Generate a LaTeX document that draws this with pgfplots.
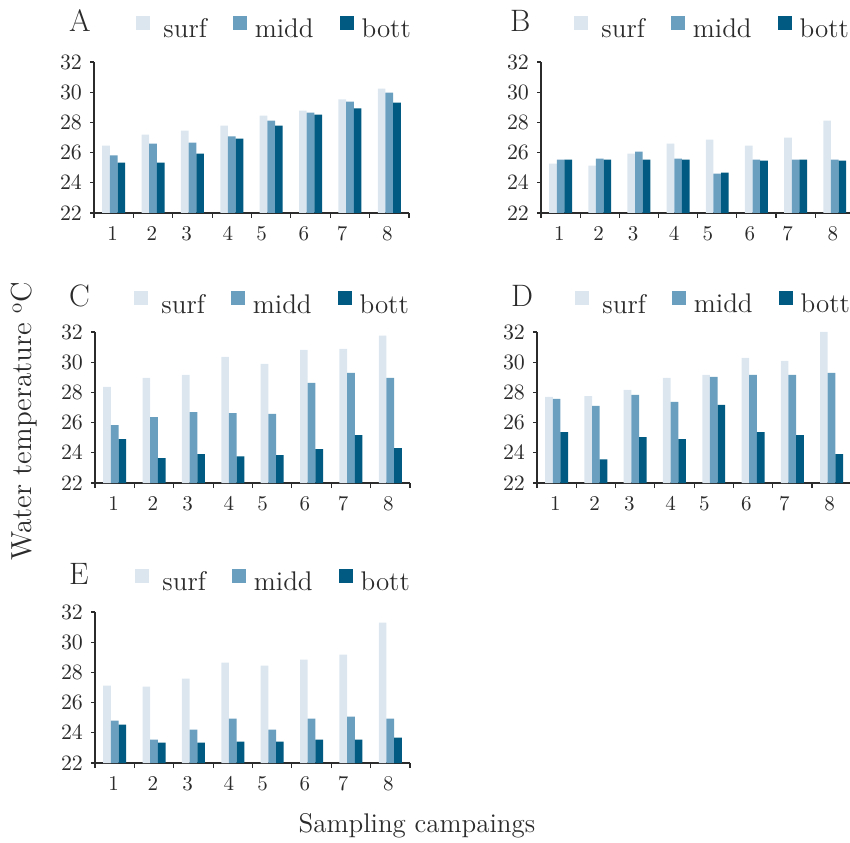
\documentclass[border=0pt]{standalone}
\usepackage{pgfplots}
\usepackage{pgfplotstable}
\pgfplotsset{compat=1.18}

\definecolor{surfc}{HTML}{DCE6EF}
\definecolor{middc}{HTML}{6A9FC0}
\definecolor{bottc}{HTML}{005A82}
\definecolor{inkc}{HTML}{2B2B2B}

% water temperature per sampling campaign, panels A-E
\pgfplotstableread{
x surf midd bott
1 26.46 25.82 25.33
2 27.19 26.59 25.33
3 27.45 26.66 25.93
4 27.78 27.08 26.92
5 28.45 28.11 27.78
6 28.78 28.64 28.51
7 29.53 29.37 28.93
8 30.23 29.97 29.31
}\tabA
\pgfplotstableread{
x surf midd bott
1 25.27 25.53 25.53
2 25.13 25.60 25.53
3 25.93 26.06 25.53
4 26.59 25.60 25.53
5 26.86 24.60 24.67
6 26.46 25.53 25.47
7 26.99 25.53 25.53
8 28.11 25.53 25.47
}\tabB
\pgfplotstableread{
x surf midd bott
1 28.36 25.84 24.90
2 28.96 26.37 23.64
3 29.16 26.70 23.91
4 30.36 26.63 23.77
5 29.89 26.57 23.84
6 30.82 28.63 24.24
7 30.89 29.29 25.17
8 31.76 28.96 24.31
}\tabC
\pgfplotstableread{
x surf midd bott
1 27.70 27.57 25.37
2 27.76 27.10 23.57
3 28.16 27.83 25.04
4 28.96 27.37 24.90
5 29.16 29.03 27.17
6 30.29 29.16 25.37
7 30.09 29.16 25.17
8 32.00 29.29 23.91
}\tabD
\pgfplotstableread{
x surf midd bott
1 27.12 24.80 24.54
2 27.06 23.55 23.35
3 27.59 24.21 23.35
4 28.64 24.94 23.41
5 28.45 24.21 23.41
6 28.84 24.94 23.55
7 29.17 25.07 23.55
8 31.29 24.94 23.68
}\tabE

\tikzset{letter/.style={anchor=base west, font=\fontsize{15.5}{18}\selectfont, text=inkc}}

\pgfplotsset{
  panel/.style={
    scale only axis, width=157.5pt, height=75.5pt,
    anchor=south west, clip mode=individual,
    ybar=0pt, bar width=0.195,
    ymin=22, ymax=32, ytick={22,24,...,32},
    xmin=0.5, xmax=8.5,
    axis x line*=bottom, axis y line*=left,
    xtick={0.97,1.97,2.85,3.9,4.76,5.83,6.8,7.95},
    xticklabels={1,2,3,4,5,6,7,8},
    minor xtick={0.5,1.5,...,8.5},
    tick align=outside, major tick length=2pt, minor tick length=2.5pt,
    axis line style={line width=0.6pt, inkc},
    tick style={line width=0.6pt, inkc},
    major x tick style={draw=none},
    tick label style={font=\fontsize{10.5}{12}\selectfont, inkc},
    xticklabel shift=1pt, yticklabel shift=0.5pt,
    legend columns=3,
    legend style={draw=none, fill=none, inner sep=0pt, anchor=west,
      nodes={inner sep=0pt}, font=\fontsize{13.5}{16}\selectfont, text=inkc,
      /tikz/every odd column/.append style={column sep=4pt},
      /tikz/every even column/.append style={column sep=13pt}},
    legend image code/.code={\fill[##1] (0pt,0pt) rectangle (7pt,7pt);},
  },
  surfbar/.style={fill=surfc, draw=none},
  middbar/.style={fill=middc, draw=none},
  bottbar/.style={fill=bottc, draw=none},
}

\newcommand{\bars}[1]{%
  \addplot[surfbar] table[x=x, y=surf] {#1};
  \addplot[middbar] table[x=x, y=midd] {#1};
  \addplot[bottbar] table[x=x, y=bott] {#1};
  \legend{\hspace{2.5pt}surf, midd, bott}
}

\begin{document}
\begin{tikzpicture}
\useasboundingbox (0,0) rectangle (425pt,421pt);

\begin{axis}[panel, at={(47pt,314.5pt)},
  legend style={at={(0,1)}, xshift=21pt, yshift=16.75pt}]
  \bars{\tabA}
  \node[letter] at (rel axis cs:0,1) [xshift=-16pt, yshift=15.3pt] {A};
\end{axis}

\begin{axis}[panel, at={(270.5pt,314.5pt)}, width=154.5pt, xmax=8.39,
  legend style={at={(0,1)}, xshift=16.5pt, yshift=16.75pt}]
  \bars{\tabB}
  \node[letter] at (rel axis cs:0,1) [xshift=-19pt, yshift=15.3pt] {B};
\end{axis}

\begin{axis}[panel, at={(47.5pt,179.5pt)},
  legend style={at={(0,1)}, xshift=19.5pt, yshift=14pt}]
  \bars{\tabC}
  \node[letter] at (rel axis cs:0,1) [xshift=-16.5pt, yshift=12.5pt] {C};
\end{axis}

\begin{axis}[panel, at={(268.5pt,179.5pt)}, width=156.5pt, xmax=8.47,
  legend style={at={(0,1)}, xshift=19pt, yshift=14.25pt}]
  \bars{\tabD}
  \node[letter] at (rel axis cs:0,1) [xshift=-16.5pt, yshift=12.75pt] {D};
\end{axis}

\begin{axis}[panel, at={(47.5pt,39.5pt)},
  legend style={at={(0,1)}, xshift=20pt, yshift=15.5pt}]
  \bars{\tabE}
  \node[letter] at (rel axis cs:0,1) [xshift=-16.5pt, yshift=14pt] {E};
\end{axis}

\node[rotate=90, anchor=base, font=\fontsize{14.5}{17}\selectfont, text=inkc]
  at (16pt,210.5pt) {Water temperature \textsuperscript{o}C};
\node[anchor=base, font=\fontsize{13.5}{16}\selectfont, text=inkc]
  at (208.5pt,5pt) {Sampling campaings};
\end{tikzpicture}
\end{document}
